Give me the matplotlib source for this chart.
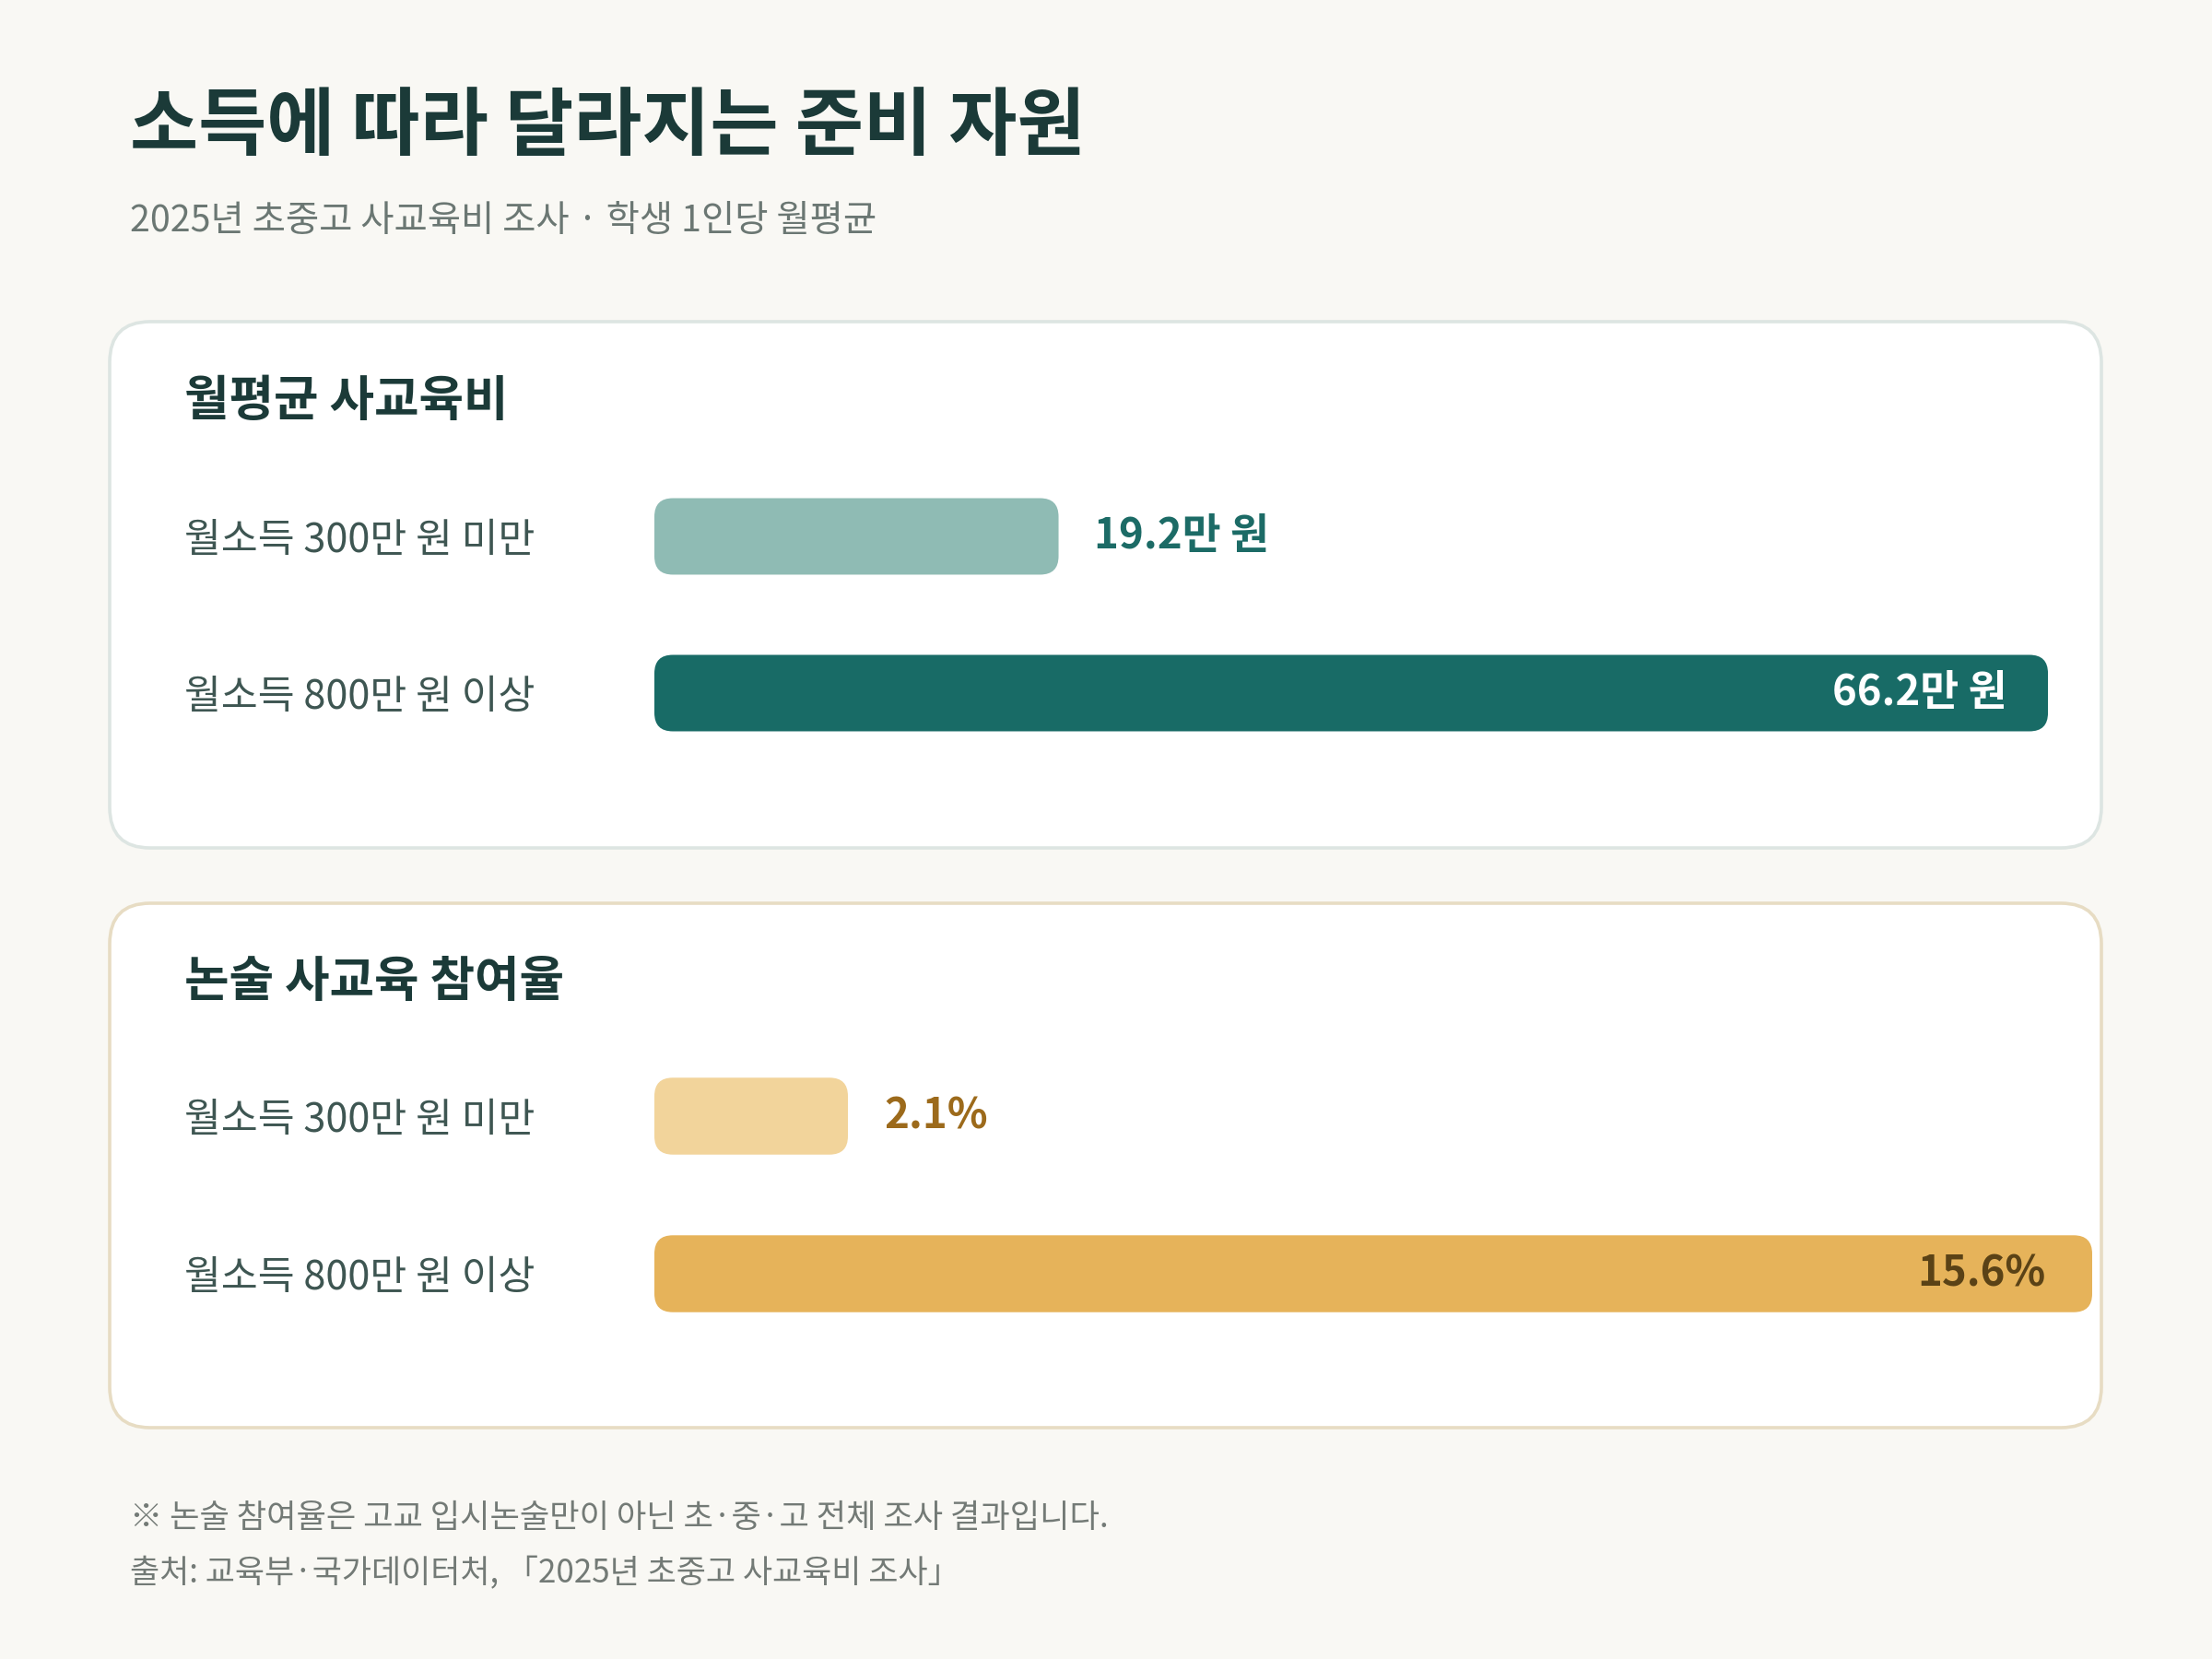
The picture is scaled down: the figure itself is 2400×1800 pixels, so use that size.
import matplotlib
matplotlib.use("Agg")
import matplotlib.pyplot as plt
from matplotlib.patches import FancyBboxPatch

plt.rcParams['font.family'] = ['Noto Sans CJK KR', 'DejaVu Sans']

# data
groups = ['월소득 300만 원 미만', '월소득 800만 원 이상']
spend = [19.2, 66.2]          # 월평균 사교육비 (만 원)
essay_rate = [2.1, 15.6]      # 논술 사교육 참여율 (%)

title = '소득에 따라 달라지는 준비 자원'
subtitle = '2025년 초중고 사교육비 조사 · 학생 1인당 월평균'
card_titles = ['월평균 사교육비', '논술 사교육 참여율']
notes = ['※ 논술 참여율은 고교 입시논술만이 아닌 초·중·고 전체 조사 결과입니다.',
         '출처: 교육부·국가데이터처, 「2025년 초중고 사교육비 조사」']

# colours
BG = '#f9f8f4'
DARK = '#1b3a38'
W, H, DPI = 12, 9, 200

fig = plt.figure(figsize=(W, H), dpi=DPI, facecolor=BG)
px_w, px_h = W * DPI, H * DPI


def card(y_top, y_bot, edge):
    # rounded white card, coordinates in pixels from the top-left
    x0, x1 = 119, 2280
    r = 44
    p = FancyBboxPatch((x0 / px_w, 1 - y_bot / px_h), (x1 - x0) / px_w, (y_bot - y_top) / px_h,
                       boxstyle=f"round,pad=0,rounding_size={r / px_w}",
                       mutation_aspect=px_w / px_h,
                       transform=fig.transFigure, facecolor='white', edgecolor=edge,
                       linewidth=1.3, zorder=0)
    fig.add_artist(p)


card(349, 920, '#dde5e2')
card(980, 1549, '#e7dcc3')


def round_bars(ax, bars, radius_px):
    # swap plain barh rectangles for rounded ones (circular corners in pixels)
    pos = ax.get_position()
    x0, x1 = ax.get_xlim()
    y0, y1 = ax.get_ylim()
    xu = (x1 - x0) / (pos.width * px_w)
    yu = abs(y1 - y0) / (pos.height * px_h)
    for b in bars:
        rb = FancyBboxPatch((b.get_x(), b.get_y()), b.get_width(), b.get_height(),
                            boxstyle=f"round,pad=0,rounding_size={radius_px * xu}",
                            mutation_aspect=yu / xu,
                            facecolor=b.get_facecolor(), edgecolor='none', zorder=2)
        ax.add_patch(rb)
        b.remove()


def bar_panel(rect, values, xmax, colors, fmt, out_color, in_color, in_pad):
    ax = fig.add_axes(rect)
    ax.set_facecolor('none')
    y = list(range(len(values)))
    bars = ax.barh(y, values, height=0.488, color=colors)
    ax.set_xlim(0, xmax)
    ax.set_ylim(1.5, -0.5)
    round_bars(ax, bars, 20)
    for s in ax.spines.values():
        s.set_visible(False)
    ax.set_xticks([])
    ax.set_yticks(y)
    ax.set_yticklabels(groups, ha='left', fontsize=15.6, color='#3e5652')
    ax.tick_params(axis='y', length=0, pad=183.6)
    # value labels: small bar outside, largest bar inside
    for i, v in enumerate(values):
        if v == max(values):
            ax.annotate(fmt(v), xy=(v, i), xytext=(-in_pad, 0), textcoords='offset points',
                        ha='right', va='center', fontsize=16.4, fontweight='bold', color=in_color)
        else:
            ax.annotate(fmt(v), xy=(v, i), xytext=(14, 0), textcoords='offset points',
                        ha='left', va='center', fontsize=16.4, fontweight='bold', color=out_color)
    return ax


bar_panel([710 / px_w, 0.535, 1560 / px_w, 0.18889], spend, 68.3,
          ['#8fbbb4', '#186b66'], lambda v: f'{v}만 원', '#1c6b66', 'white', 16)
bar_panel([710 / px_w, 0.18472, 1560 / px_w, 0.19], essay_rate, 15.6,
          ['#f2d49b', '#e6b35a'], lambda v: f'{v}%', '#9c6a1b', '#5a4216', 18)

# headings
fig.text(0.0588, 0.9233, title, fontsize=29, fontweight='heavy', color=DARK, va='center')
fig.text(0.0588, 0.8667, subtitle, fontsize=14.2, color='#6b7773', va='center')
fig.text(0.0833, 0.7583, card_titles[0], fontsize=19, fontweight='bold', color=DARK, va='center')
fig.text(0.0833, 0.4083, card_titles[1], fontsize=19, fontweight='bold', color=DARK, va='center')

# footnotes
fig.text(0.0588, 0.085, notes[0], fontsize=12.7, color='#737a76', va='center')
fig.text(0.0588, 0.0517, notes[1], fontsize=12.6, color='#737a76', va='center')

fig.savefig('out.png', dpi=DPI, facecolor=BG)
